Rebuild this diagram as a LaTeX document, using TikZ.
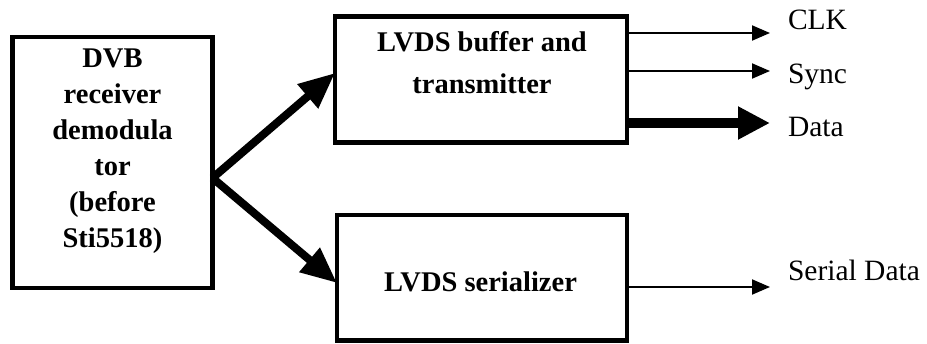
\documentclass[tikz,border=0pt]{standalone}
\usepackage{fontspec}
\setmainfont{Liberation Serif}
\usetikzlibrary{arrows.meta,calc}
\begin{document}
\begin{tikzpicture}[x=1pt,y=-1pt,
  box/.style={draw,line width=4.5pt,inner sep=0pt,outer sep=0pt},
  btext/.style={inner sep=0pt,outer sep=0pt,align=center},
  lbl/.style={inner sep=0pt,outer sep=0pt,anchor=base west,font=\fontsize{29.5}{36}\selectfont},
  thinarrow/.style={line width=2pt,-{Triangle[length=18pt,width=15pt]}},
  datarrow/.style={line width=10pt,-{Triangle[length=32pt,width=31pt]}},
  forkarrow/.style={line width=8pt,-{Triangle[length=36pt,width=30pt]}}]
\fill[white] (0,0) rectangle (927,343);
\useasboundingbox (0,0) rectangle (927,343);
% boxes
\node[box,minimum width=200pt,minimum height=251pt] (dvb) at (112.5,162.5) {};
\node[box,minimum width=292pt,minimum height=126pt] (buf) at (481,79.5) {};
\node[box,minimum width=290pt,minimum height=125.5pt] (ser) at (482,277.75) {};
% box texts
\node[btext,font=\fontsize{28.5}{36}\selectfont\bfseries] (dvbt) at (112.5,151) {DVB\\receiver\\demodula\\tor\\(before\\Sti5518)};
\node[btext,font=\fontsize{28.5}{42}\selectfont\bfseries] (buft) at (482,62.7) {LVDS buffer and\\transmitter};
\node[btext,font=\fontsize{28.5}{36}\selectfont\bfseries] (sert) at (480.5,281.7) {LVDS serializer};
% fork arrows
\coordinate (fork) at ([yshift=-15.5pt]dvb.east);
\draw[forkarrow] (fork) -- ([yshift=6.5pt]buf.west);
\draw[forkarrow] (fork) -- ([yshift=-5.25pt]ser.west);
% output labels
\node[lbl] (clkl) at (788,29) {CLK};
\node[lbl] (syncl) at (788,83) {Sync};
\node[lbl] (datal) at (788,136) {Data};
\node[lbl] (serl) at (788,280) {Serial Data};
% output arrows
\coordinate (clkend) at (770,33);
\coordinate (syncend) at (770,71);
\coordinate (dataend) at (770,123);
\coordinate (serend) at (770,287);
\draw[thinarrow] (buf.east |- clkend) -- (clkend);
\draw[thinarrow] (buf.east |- syncend) -- (syncend);
\draw[datarrow] (buf.east |- dataend) -- (dataend);
\draw[thinarrow] (ser.east |- serend) -- (serend);
\end{tikzpicture}
\end{document}
